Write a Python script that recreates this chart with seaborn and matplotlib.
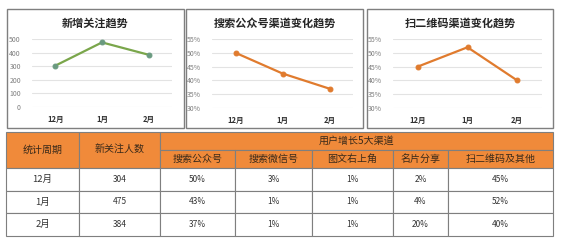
import matplotlib
matplotlib.use("Agg")
import matplotlib.pyplot as plt
from matplotlib.patches import Rectangle
from matplotlib.ticker import PercentFormatter
import seaborn as sns
import pandas as pd

# ---- data ----
months = ["12月", "1月", "2月"]
new_followers = [304, 475, 384]
search_account = [0.50, 0.425, 0.37]
scan_qrcode = [0.45, 0.52, 0.40]

chart_titles = ["新增关注趋势", "搜索公众号渠道变化趋势", "扫二维码渠道变化趋势"]

table_head = ["统计周期", "新关注人数"]
group_head = "用户增长5大渠道"
channel_head = ["搜索公众号", "搜索微信号", "图文右上角", "名片分享", "扫二维码及其他"]
table_rows = [
    ["12月", "304", "50%", "3%", "1%", "2%", "45%"],
    ["1月", "475", "43%", "1%", "1%", "4%", "52%"],
    ["2月", "384", "37%", "1%", "1%", "20%", "40%"],
]

# ---- style ----
sns.set_theme(style="white")
plt.rcParams["font.family"] = ["Noto Sans CJK SC", "DejaVu Sans"]

W, H = 564, 252
fig = plt.figure(figsize=(W / 100, H / 100), dpi=100)
fig.patch.set_facecolor("white")

GREEN = "#7aa64b"
GREEN_MK = "#6a9a80"
ORANGE = "#e07b2e"
HEAD = "#f08a3a"
BORDER = "#7f7f7f"


def px_axes(x0, y0, x1, y1):
    # pixel box (top-left origin) -> figure axes
    return fig.add_axes([x0 / W, 1 - y1 / H, (x1 - x0) / W, (y1 - y0) / H])


def frame(x0, y0, x1, y1):
    fig.patches.append(Rectangle((x0 / W, 1 - y1 / H), (x1 - x0) / W, (y1 - y0) / H,
                                 transform=fig.transFigure, fill=False,
                                 edgecolor=BORDER, linewidth=1.0))


def line_chart(box, plot, values, color, mk, ylim, ticks, pct, title):
    frame(*box)
    ax = px_axes(*plot)
    df = pd.DataFrame({"m": months, "v": values})
    sns.lineplot(data=df, x="m", y="v", ax=ax, color=color, linewidth=1.6,
                 marker="o", markersize=3.5, markerfacecolor=mk, markeredgecolor=mk,
                 sort=False)
    ax.set_xlim(-0.5, 2.5)
    ax.set_ylim(*ylim)
    ax.set_yticks(ticks)
    if pct:
        ax.yaxis.set_major_formatter(PercentFormatter(1.0, decimals=0))
    ax.grid(axis="y", color="#e3e3e3", linewidth=0.8)
    ax.set_axisbelow(True)
    for s in ax.spines.values():
        s.set_visible(False)
    ax.set_xlabel("")
    ax.set_ylabel("")
    ax.tick_params(axis="y", labelsize=5, colors="#7f7f7f", length=0, pad=8)
    ax.tick_params(axis="x", labelsize=5.5, colors="#333333", length=0, pad=6)
    for t in ax.get_xticklabels():
        t.set_fontweight("bold")
    cx = (box[0] + box[2]) / 2
    fig.text(cx / W, 1 - 23 / H, title, ha="center", va="center",
             fontsize=8, fontweight="bold", color="#262626")


line_chart((7, 9, 184, 128), (32, 39, 172, 107), new_followers, GREEN, GREEN_MK,
           (0, 500), [0, 100, 200, 300, 400, 500], False, chart_titles[0])
line_chart((186, 9, 363, 128), (212, 39, 353, 108), search_account, ORANGE, ORANGE,
           (0.30, 0.55), [0.30, 0.35, 0.40, 0.45, 0.50, 0.55], True, chart_titles[1])
line_chart((367, 9, 553, 128), (393, 39, 542, 108), scan_qrcode, ORANGE, ORANGE,
           (0.30, 0.55), [0.30, 0.35, 0.40, 0.45, 0.50, 0.55], True, chart_titles[2])

# ---- table ----
col_edges = [6, 79, 160, 235, 312, 393, 448, 553]
row_edges = [132, 150, 168, 191, 213, 236]

tax = fig.add_axes([0, 0, 1, 1])
tax.set_xlim(0, W)
tax.set_ylim(H, 0)
tax.axis("off")


def cell(x0, y0, x1, y1, fill, text, size, color="#333333"):
    tax.add_patch(Rectangle((x0, y0), x1 - x0, y1 - y0, facecolor=fill,
                            edgecolor=BORDER, linewidth=0.8))
    tax.text((x0 + x1) / 2, (y0 + y1) / 2, text, ha="center", va="center",
             fontsize=size, color=color)


for i, h in enumerate(table_head):
    cell(col_edges[i], row_edges[0], col_edges[i + 1], row_edges[2], HEAD, h, 7.2, "#3a2a1a")
cell(col_edges[2], row_edges[0], col_edges[-1], row_edges[1], HEAD, group_head, 7.2, "#3a2a1a")
for i, h in enumerate(channel_head):
    cell(col_edges[i + 2], row_edges[1], col_edges[i + 3], row_edges[2], HEAD, h, 7.2, "#3a2a1a")
for r, row in enumerate(table_rows):
    for c, v in enumerate(row):
        size = 6.8 if c == 0 else 6
        cell(col_edges[c], row_edges[r + 2], col_edges[c + 1], row_edges[r + 3], "white", v, size)

fig.savefig("out.png", dpi=100, facecolor="white")
